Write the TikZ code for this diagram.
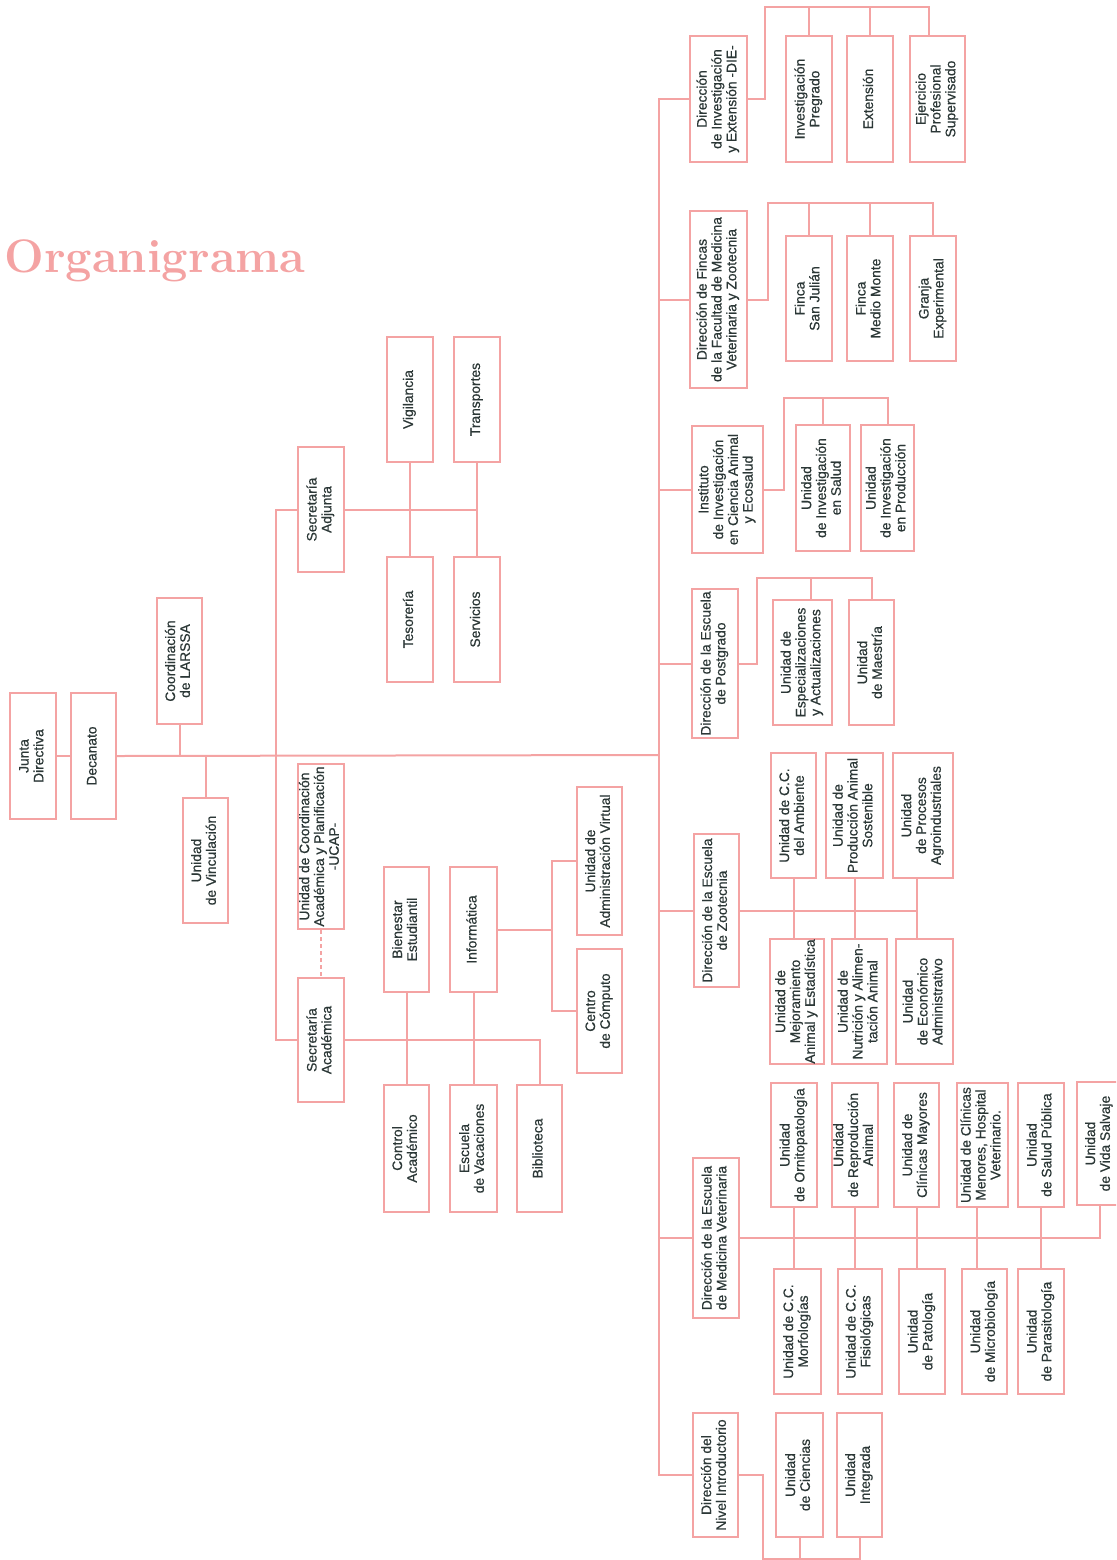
\documentclass[tikz,border=0pt]{standalone}
\usepackage{fontspec}
\newfontfamily\boxFont{Liberation Sans}[FakeBold=0.6]
\usepackage{graphicx}
\usetikzlibrary{positioning}
\definecolor{salmon}{HTML}{F4A3A3}
\definecolor{ink}{HTML}{2B3736}
\newcommand{\vt}[1]{\rotatebox{90}{\begin{tabular}{@{}c@{}}#1\end{tabular}}}

\begin{document}
\begin{tikzpicture}[x=0.5pt, y=-0.5pt,
    unitBox/.style 2 args={rectangle, draw=salmon, line width=1.1pt, fill=white, text=ink, font=\boxFont\fontsize{6.9}{7.4}\selectfont, inner sep=0pt, minimum width=#1*0.5pt, minimum height=#2*0.5pt},
    linkLine/.style={draw=salmon, line width=1pt},
    titleText/.style={text=salmon, font=\fontsize{23.5}{28}\selectfont\bfseries, inner sep=0pt}
]
    \useasboundingbox (0,0) rectangle (1116,1560);
    \clip (0,0) rectangle (1116,1560);

    \node[titleText, anchor=base west] (title) at (4,272) {Organigrama};

    % dirección
    \node[unitBox={46}{126}] (junta)    at (33,756)      {\vt{Junta\\Directiva}};
    \node[unitBox={45}{126}] (decanato) at (93.5,756)    {\vt{Decanato}};
    \node[unitBox={45}{126}] (larssa)   at (179.5,661)   {\vt{Coordinación\\de LARSSA}};
    \node[unitBox={45}{125}] (vinc)     at (205.5,860.5) {\vt{Unidad\\de Vinculación}};

    % secretarías
    \node[unitBox={46}{125}] (secAdj)  at (321,509.5) {\vt{Secretaría\\Adjunta}};
    \node[unitBox={46}{165}] (ucap)    at (321,846.5) {\vt{Unidad de Coordinación\\Académica y Planificación\\-UCAP-}};
    \node[unitBox={46}{124}] (secAcad) at (321,1040)  {\vt{Secretaría\\Académica}};

    \node[unitBox={46}{125}] (vigil)  at (410,399.5) {\vt{Vigilancia}};
    \node[unitBox={46}{125}] (transp) at (477,399.5) {\vt{Transportes}};
    \node[unitBox={46}{125}] (tesor)  at (410,619.5) {\vt{Tesorería}};
    \node[unitBox={46}{125}] (serv)   at (477,619.5) {\vt{Servicios}};

    \node[unitBox={45}{125}] (bienestar) at (406.5,929.5)  {\vt{Bienestar\\Estudiantil}};
    \node[unitBox={47}{125}] (inform)    at (473.5,929.5)  {\vt{Informática}};
    \node[unitBox={45}{127}] (control)   at (406.5,1148.5) {\vt{Control\\Académico}};
    \node[unitBox={47}{127}] (escVac)    at (473.5,1148.5) {\vt{Escuela\\de Vacaciones}};
    \node[unitBox={45}{127}] (biblio)    at (539.5,1148.5) {\vt{Biblioteca}};
    \node[unitBox={45}{148}] (admVirt)   at (599.5,861)    {\vt{Unidad de\\Administración Virtual}};
    \node[unitBox={45}{124}] (computo)   at (599.5,1011)   {\vt{Centro\\de Cómputo}};

    % direcciones de la derecha
    \node[unitBox={57}{126}] (die)    at (718.5,99)  {\vt{Dirección\\de Investigación\\y Extensión -DIE-}};
    \node[unitBox={46}{126}] (invPre) at (809,99)    {\vt{Investigación\\Pregrado}};
    \node[unitBox={46}{126}] (ext)    at (870,99)    {\vt{Extensión}};
    \node[unitBox={55}{126}] (eps)    at (937.5,99)  {\vt{Ejercicio\\Profesional\\Supervisado}};

    \node[unitBox={57}{177}] (fincas)     at (718.5,299.5) {\vt{Dirección de Fincas\\de la Facultad de Medicina\\Veterinaria y Zootecnia}};
    \node[unitBox={46}{125}] (sanJulian)  at (809,298.5)   {\vt{Finca\\San Julián}};
    \node[unitBox={46}{125}] (medioMonte) at (870,298.5)   {\vt{Finca\\Medio Monte}};
    \node[unitBox={46}{125}] (granja)     at (933,298.5)   {\vt{Granja\\Experimental}};

    \node[unitBox={71}{127}] (instituto) at (727.5,489.5) {\vt{Instituto\\de Investigación\\en Ciencia Animal\\y Ecosalud}};
    \node[unitBox={54}{126}] (invSalud)  at (823,488)     {\vt{Unidad\\de Investigación\\en Salud}};
    \node[unitBox={53}{126}] (invProd)   at (887.5,488)   {\vt{Unidad\\de Investigación\\en Producción}};

    \node[unitBox={46}{149}] (postgrado) at (715,663.5)   {\vt{Dirección de la Escuela\\de Postgrado}};
    \node[unitBox={59}{125}] (especial)  at (802.5,662.5) {\vt{Unidad de\\Especializaciones\\y Actualizaciones}};
    \node[unitBox={45}{125}] (maestria)  at (871.5,662.5) {\vt{Unidad\\de Maestría}};

    \node[unitBox={45}{153}] (zootecnia) at (716.5,910.5) {\vt{Dirección de la Escuela\\de Zootecnia}};
    \node[unitBox={45}{125}] (ccAmb)     at (793.5,815.5) {\vt{Unidad de C.C.\\del Ambiente}};
    \node[unitBox={57}{125}] (prodAnim)  at (854.5,815.5) {\vt{Unidad de\\Producción Animal\\Sostenible}};
    \node[unitBox={60}{125}] (procesos)  at (923,815.5)   {\vt{Unidad\\de Procesos\\Agroindustriales}};
    \node[unitBox={54}{125}] (mejora)    at (797,1001.5)  {\vt{Unidad de\\Mejoramiento\\Animal y Estadística}};
    \node[unitBox={55}{125}] (nutric)    at (859.5,1001.5) {\vt{Unidad de\\Nutrición y Alimen-\\tación Animal}};
    \node[unitBox={57}{125}] (econ)      at (924.5,1001.5) {\vt{Unidad\\de Económico\\Administrativo}};

    \node[unitBox={46}{160}] (mvet)    at (716,1238)      {\vt{Dirección de la Escuela\\de Medicina Veterinaria}};
    \node[unitBox={46}{124}] (ornito)  at (794,1145)      {\vt{Unidad\\de Ornitopatología}};
    \node[unitBox={46}{124}] (reprod)  at (855,1145)      {\vt{Unidad\\de Reproducción\\Animal}};
    \node[unitBox={45}{124}] (cliMay)  at (916.5,1145)    {\vt{Unidad de\\Clínicas Mayores}};
    \node[unitBox={51}{124}] (cliMen)  at (982.5,1145)    {\vt{Unidad de Clínicas\\Menores, Hospital\\Veterinario.}};
    \node[unitBox={46}{124}] (saludP)  at (1041,1145)     {\vt{Unidad\\de Salud Pública}};
    \node[unitBox={45}{123}] (vidaS)   at (1099.5,1143.5) {\vt{Unidad\\de Vida Salvaje}};
    \node[unitBox={47}{125}] (morfo)   at (797.5,1331.5)  {\vt{Unidad de C.C.\\Morfologías}};
    \node[unitBox={44}{125}] (fisio)   at (860,1331.5)    {\vt{Unidad de C.C.\\Fisiológicas}};
    \node[unitBox={46}{125}] (pato)    at (922,1331.5)    {\vt{Unidad\\de Patología}};
    \node[unitBox={45}{125}] (micro)   at (984.5,1331.5)  {\vt{Unidad\\de Microbiología}};
    \node[unitBox={46}{125}] (parasit) at (1041,1331.5)   {\vt{Unidad\\de Parasitología}};

    \node[unitBox={45}{124}] (nivel)     at (715.5,1475) {\vt{Dirección del\\Nivel Introductorio}};
    \node[unitBox={47}{124}] (ciencias)  at (799.5,1475) {\vt{Unidad\\de Ciencias}};
    \node[unitBox={45}{124}] (integrada) at (859.5,1475) {\vt{Unidad\\Integrada}};

    % tronco
    \coordinate (trunk)  at (659,755);
    \coordinate (secBar) at (276,755);
    \draw[linkLine] (junta.east) -- (decanato.west);
    \draw[linkLine] (decanato.east) -- (trunk);
    \draw[linkLine] (larssa.south) -- (larssa.south |- trunk);
    \draw[linkLine] (vinc.north) -- (vinc.north |- trunk);
    \draw[linkLine] (die.west) -- (die.west -| trunk) -- (nivel.west -| trunk) -- (nivel.west);
    \foreach \dir in {fincas,instituto,postgrado,zootecnia,mvet}
        \draw[linkLine] (\dir.west) -- (\dir.west -| trunk);

    % secretarías
    \draw[linkLine] (secAdj.west) -| (secAcad.west -| secBar) -- (secAcad.west);
    \draw[linkLine, dash pattern=on 2pt off 1.5pt] (ucap.south) -- (secAcad.north);
    \draw[linkLine] (secAdj.east) -- (secAdj.east -| transp.south);
    \draw[linkLine] (vigil.south) -- (tesor.north);
    \draw[linkLine] (transp.south) -- (serv.north);
    \draw[linkLine] (secAcad.east) -| (biblio.north);
    \draw[linkLine] (bienestar.south) -- (control.north);
    \draw[linkLine] (inform.south) -- (escVac.north);
    \coordinate (infoBus) at (552,930);
    \draw[linkLine] (inform.east) -- (inform.east -| infoBus);
    \draw[linkLine] (admVirt.west) -| (computo.west -| infoBus) -- (computo.west);

    % investigación y extensión
    \coordinate (dieBus) at (765,7);
    \draw[linkLine] (die.east) -| (dieBus) -| ([xshift=-4.5pt]eps.north);
    \draw[linkLine] (invPre.north) -- (invPre.north |- dieBus);
    \draw[linkLine] (ext.north) -- (ext.north |- dieBus);

    % fincas
    \coordinate (fincasBus) at (768,203);
    \draw[linkLine] (fincas.east) -| (fincasBus) -| (granja.north);
    \draw[linkLine] (sanJulian.north) -- (sanJulian.north |- fincasBus);
    \draw[linkLine] (medioMonte.north) -- (medioMonte.north |- fincasBus);

    % instituto
    \coordinate (instBus) at (784,398);
    \draw[linkLine] (instituto.east) -| (instBus) -| (invProd.north);
    \draw[linkLine] (invSalud.north) -- (invSalud.north |- instBus);

    % postgrado
    \coordinate (postBus) at (757,578);
    \draw[linkLine] (postgrado.east) -| (postBus) -| (maestria.north);
    \draw[linkLine] ([xshift=4.25pt]especial.north) -- ([xshift=4.25pt]especial.north |- postBus);

    % zootecnia
    \coordinate (zooDrop) at ([xshift=-3pt]procesos.south);
    \draw[linkLine] (zootecnia.east) -- (zootecnia.east -| zooDrop);
    \draw[linkLine] (ccAmb.south) -- (ccAmb.south |- mejora.north);
    \draw[linkLine] (prodAnim.south) -- (prodAnim.south |- nutric.north);
    \draw[linkLine] (zooDrop) -- (zooDrop |- econ.north);

    % medicina veterinaria
    \draw[linkLine] (mvet.east) -- (mvet.east -| vidaS.south) -- (vidaS.south);
    \foreach \hi/\lo in {ornito/morfo, reprod/fisio, cliMay/pato, saludP/parasit}
        \draw[linkLine] (\hi.south) -- (\hi.south |- \lo.north);
    \coordinate (menDrop) at ([xshift=-2.75pt]cliMen.south);
    \draw[linkLine] (menDrop) -- (menDrop |- micro.north);

    % nivel introductorio
    \coordinate (nivelBus) at (763,1559);
    \draw[linkLine] (nivel.east) -| (nivelBus) -| (integrada.south);
    \draw[linkLine] (ciencias.south) -- (ciencias.south |- nivelBus);
\end{tikzpicture}
\end{document}
